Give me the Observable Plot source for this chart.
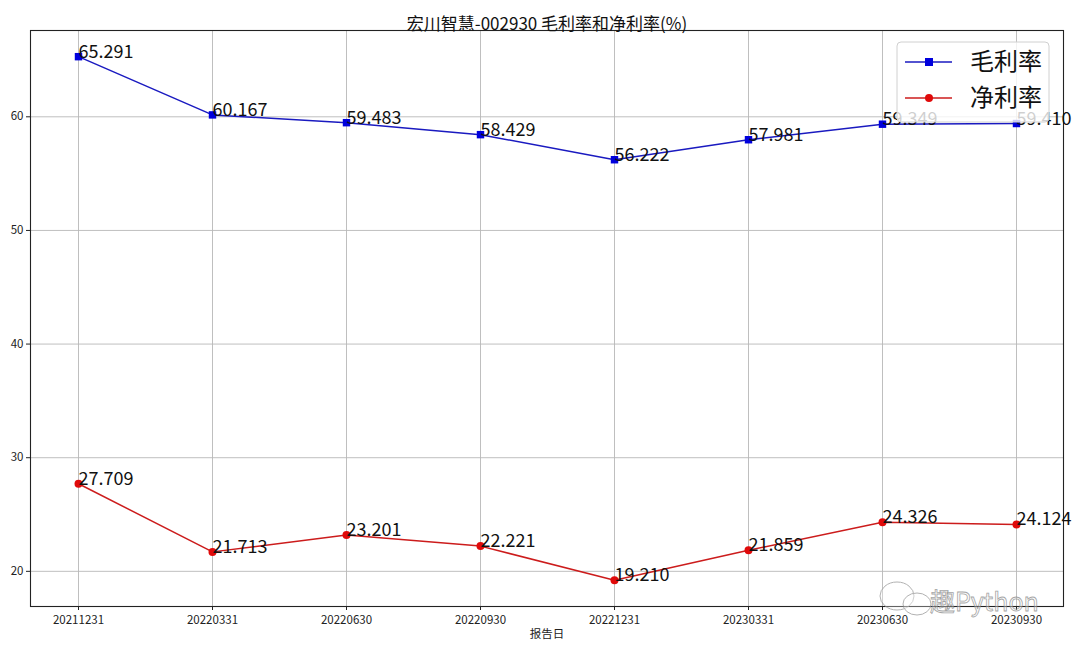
<!DOCTYPE html>
<html>
<head>
<meta charset="utf-8">
<script src="https://cdn.jsdelivr.net/npm/d3@7"></script>
<script src="https://cdn.jsdelivr.net/npm/@observablehq/plot@0.6"></script>
<style>
  html, body { margin: 0; padding: 0; background: #fff; }
  svg { display: block; }
</style>
</head>
<body>
<div id="chart"></div>
<script>
const dates = ["20211231","20220331","20220630","20220930","20221231","20230331","20230630","20230930"];
const grossMargin = [65.291, 60.167, 59.483, 58.429, 56.222, 57.981, 59.349, 59.410];
const netMargin = [27.709, 21.713, 23.201, 22.221, 19.210, 21.859, 24.326, 24.124];
const seriesNames = ["毛利率", "净利率"];
const yTicks = [20, 30, 40, 50, 60];
const titleText = "宏川智慧-002930 毛利率和净利率(%)";
const xLabel = "报告日";
const watermarkText = "趣Python";

const FONT = "'Noto Sans CJK SC', 'Noto Sans', sans-serif";
const BLUE_LINE = "#1a1ac0", BLUE_MARK = "#0000dd";
const RED_LINE = "#cc1c1c", RED_MARK = "#e00a0a";

const gross = dates.map((d, i) => ({date: d, value: grossMargin[i]}));
const net = dates.map((d, i) => ({date: d, value: netMargin[i]}));

const all = grossMargin.concat(netMargin);
const lo = d3.min(all), hi = d3.max(all), pad = (hi - lo) * 0.05;

const plot = Plot.plot({
  width: 1080,
  height: 653,
  marginTop: 30,
  marginBottom: 47,
  marginLeft: 30,
  marginRight: 17,
  style: {fontFamily: FONT, background: "#fff", color: "#222"},
  x: {type: "point", domain: dates, padding: 0.354},
  y: {domain: [lo - pad, hi + pad]},
  marks: [
    Plot.gridX(dates, {stroke: "#b8b8b8", strokeOpacity: 1, strokeWidth: 0.9}),
    Plot.gridY(yTicks, {stroke: "#b8b8b8", strokeOpacity: 1, strokeWidth: 0.9}),
    Plot.axisY(yTicks, {tickSize: 4, tickPadding: 3, fontSize: 11.5, label: null}),
    Plot.axisX(dates, {tickSize: 4, tickPadding: 5, fontSize: 11.5, label: null}),
    Plot.frame({stroke: "#222", strokeWidth: 1.1}),
    Plot.line(gross, {x: "date", y: "value", stroke: BLUE_LINE, strokeWidth: 1.5}),
    Plot.dot(gross, {x: "date", y: "value", symbol: "square", r: 4.2, fill: BLUE_MARK, stroke: "none"}),
    Plot.line(net, {x: "date", y: "value", stroke: RED_LINE, strokeWidth: 1.5}),
    Plot.dot(net, {x: "date", y: "value", symbol: "circle", r: 4, fill: RED_MARK, stroke: "none"}),
    Plot.text(gross, {x: "date", y: "value", text: d => d.value.toFixed(3), textAnchor: "start", lineAnchor: "bottom", fontSize: 18, fill: "#111", dy: 1}),
    Plot.text(net, {x: "date", y: "value", text: d => d.value.toFixed(3), textAnchor: "start", lineAnchor: "bottom", fontSize: 18, fill: "#111", dy: 1}),
    Plot.text([titleText], {frameAnchor: "top", dy: -13, fontSize: 17, fill: "#111"}),
    Plot.text([xLabel], {frameAnchor: "bottom", dy: 31, fontSize: 11.5, fill: "#222"})
  ]
});

document.getElementById("chart").appendChild(plot);

// Legend overlay (semi-transparent box, like matplotlib framealpha 0.8)
const svg = d3.select(plot);
const lg = svg.append("g").attr("font-family", FONT).attr("text-anchor", "start");
lg.append("rect").attr("x", 897).attr("y", 42).attr("width", 152).attr("height", 80)
  .attr("rx", 4).attr("fill", "#fff").attr("fill-opacity", 0.8)
  .attr("stroke", "#d0d0d0").attr("stroke-width", 1);
const items = [
  {name: seriesNames[0], line: BLUE_LINE, mark: BLUE_MARK, sym: "square"},
  {name: seriesNames[1], line: RED_LINE, mark: RED_MARK, sym: "circle"}
];
items.forEach((it, i) => {
  const cy = 62 + i * 36;
  lg.append("line").attr("x1", 905).attr("x2", 952).attr("y1", cy).attr("y2", cy)
    .attr("stroke", it.line).attr("stroke-width", 1.5);
  if (it.sym === "square") {
    lg.append("rect").attr("x", 925).attr("y", cy - 4).attr("width", 8).attr("height", 8).attr("fill", it.mark);
  } else {
    lg.append("circle").attr("cx", 929).attr("cy", cy).attr("r", 4).attr("fill", it.mark);
  }
  lg.append("text").attr("x", 970).attr("y", cy).attr("dy", "0.35em")
    .attr("text-anchor", "start")
    .attr("font-size", 24).attr("fill", "#111").text(it.name);
});

// Watermark
const wm = svg.append("g").attr("opacity", 0.75);
wm.append("ellipse").attr("cx", 897).attr("cy", 596).attr("rx", 17).attr("ry", 14)
  .attr("fill", "#fff").attr("fill-opacity", 0.4).attr("stroke", "#999").attr("stroke-width", 1);
wm.append("ellipse").attr("cx", 917).attr("cy", 604).attr("rx", 14).attr("ry", 11)
  .attr("fill", "#fff").attr("fill-opacity", 0.4).attr("stroke", "#999").attr("stroke-width", 1);
wm.append("text").attr("x", 930).attr("y", 611).attr("font-family", FONT)
  .attr("text-anchor", "start")
  .attr("font-size", 25).attr("fill", "#fff").attr("fill-opacity", 0.5)
  .attr("stroke", "#888").attr("stroke-width", 0.8).text(watermarkText);
</script>
</body>
</html>
